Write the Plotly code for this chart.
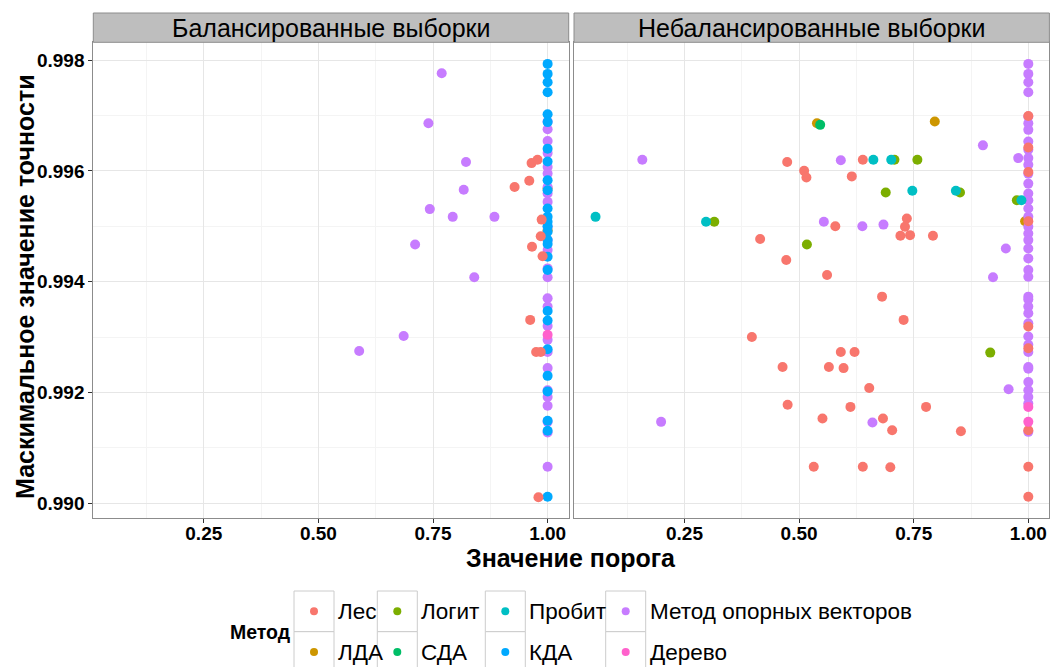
import plotly.graph_objects as go

W, H = 1052, 667
FONT = "Liberation Sans, Arial, sans-serif"

METHODS = ["Лес", "ЛДА", "Логит", "СДА", "Пробит", "КДА", "Метод опорных векторов", "Дерево"]
COLORS = ["#F8766D", "#CD9600", "#7CAE00", "#00BE67", "#00BFC4", "#00A9FF", "#C77CFF", "#FF61CC"]
PANELS = ["Балансированные выборки", "Небалансированные выборки"]
X_TICKS = [0.25, 0.50, 0.75, 1.00]
X_TICK_TEXT = ["0.25", "0.50", "0.75", "1.00"]
Y_TICKS = [0.990, 0.992, 0.994, 0.996, 0.998]
Y_TICK_TEXT = ["0.990", "0.992", "0.994", "0.996", "0.998"]
X_TITLE = "Значение порога"
Y_TITLE = "Маскимальное значение точности"
LEGEND_TITLE = "Метод"

# ---------------- Balanced samples (left panel) ----------------
BAL_LES_X = [0.965, 0.978, 0.960, 0.928, 0.987, 0.985, 0.966, 0.989, 0.962, 0.975, 0.985, 0.980]
BAL_LES_Y = [0.99614, 0.99620, 0.99582, 0.99571, 0.99512, 0.99482, 0.99463, 0.99446, 0.99331, 0.99273, 0.99273, 0.99011]
BAL_LDA_X = [1.0, 1.0]
BAL_LDA_Y = [0.99568, 0.99493]
BAL_KDA_X = [1.0, 1.0, 1.0, 1.0, 1.0, 1.0, 1.0, 1.0, 1.0, 1.0, 1.0, 1.0, 1.0, 1.0,
             1.0, 1.0, 1.0, 1.0, 1.0, 1.0, 1.0, 1.0, 1.0, 1.0, 1.0, 1.0, 1.0]
BAL_KDA_Y = [0.99793, 0.99775, 0.99760, 0.99742, 0.99702, 0.99688, 0.99640, 0.99617, 0.99583,
             0.99565, 0.99532, 0.99517, 0.99508, 0.99500, 0.99490, 0.99475, 0.99468, 0.99445,
             0.99421, 0.99347, 0.99330, 0.99278, 0.99230, 0.99202, 0.99149, 0.99131, 0.99012]
BAL_SVM_X = [0.769, 0.740, 0.822, 0.817, 0.743, 0.793, 0.884, 0.711, 0.840, 0.686, 0.589,
             1.0, 1.0, 1.0, 1.0, 1.0, 1.0, 1.0, 1.0, 1.0, 1.0, 1.0, 1.0, 1.0, 1.0, 1.0,
             1.0, 1.0, 1.0, 1.0, 1.0, 1.0, 1.0, 1.0, 1.0, 1.0, 1.0]
BAL_SVM_Y = [0.99776, 0.99686, 0.99616, 0.99566, 0.99531, 0.99517, 0.99517, 0.99467, 0.99408, 0.99302, 0.99275,
             0.99689, 0.99675, 0.99654, 0.99632, 0.99607, 0.99595, 0.99571, 0.99559, 0.99544, 0.99499,
             0.99475, 0.99457, 0.99424, 0.99408, 0.99370, 0.99355, 0.99320, 0.99295, 0.99273, 0.99244,
             0.99204, 0.99192, 0.99176, 0.99147, 0.99128, 0.99066]
BAL_TREE_X = [1.0]
BAL_TREE_Y = [0.99304]

# ---------------- Unbalanced samples (right panel) ----------------
UNB_LES_X = [0.474, 0.511, 0.516, 0.639, 0.615, 0.579, 0.735, 0.731, 0.721, 0.742, 0.792, 0.415,
             0.472, 0.561, 0.681, 0.728, 0.397, 0.591, 0.621, 0.464, 0.565, 0.597, 0.653, 0.475,
             0.612, 0.777, 0.551, 0.683, 0.703, 0.853, 0.532, 0.639, 0.699,
             1.0, 1.0, 1.0, 1.0, 1.0, 1.0, 1.0, 1.0, 1.0]
UNB_LES_Y = [0.99616, 0.99600, 0.99588, 0.99620, 0.99590, 0.99500, 0.99514, 0.99499, 0.99483, 0.99484,
             0.99483, 0.99477, 0.99439, 0.99412, 0.99373, 0.99331, 0.99300, 0.99273, 0.99273, 0.99246,
             0.99246, 0.99244, 0.99208, 0.99178, 0.99174, 0.99174, 0.99153, 0.99153, 0.99132, 0.99130,
             0.99066, 0.99066, 0.99065,
             0.99699, 0.99642, 0.99598, 0.99509, 0.99319, 0.99280, 0.99132, 0.99066, 0.99012]
UNB_LDA_X = [0.539, 0.796, 0.993]
UNB_LDA_Y = [0.99686, 0.99689, 0.99509]
UNB_LOGIT_X = [0.315, 0.708, 0.758, 0.689, 0.851, 0.975, 0.517, 0.917]
UNB_LOGIT_Y = [0.99508, 0.99620, 0.99620, 0.99561, 0.99561, 0.99547, 0.99467, 0.99272]
UNB_SDA_X = [0.546]
UNB_SDA_Y = [0.99683]
UNB_PROBIT_X = [0.056, 0.297, 0.662, 0.701, 0.747, 0.842, 0.985]
UNB_PROBIT_Y = [0.99517, 0.99508, 0.99620, 0.99620, 0.99564, 0.99564, 0.99547]
UNB_SVM_X = [0.158, 0.591, 0.901, 0.978, 0.554, 0.638, 0.684, 0.951, 0.923, 0.957, 0.199, 0.660,
             1.0, 1.0, 1.0, 1.0, 1.0, 1.0, 1.0, 1.0, 1.0, 1.0, 1.0, 1.0, 1.0, 1.0, 1.0, 1.0,
             1.0, 1.0, 1.0, 1.0, 1.0, 1.0, 1.0, 1.0, 1.0, 1.0, 1.0, 1.0, 1.0, 1.0, 1.0, 1.0,
             1.0, 1.0, 1.0, 1.0, 1.0, 1.0, 1.0]
UNB_SVM_Y = [0.99620, 0.99619, 0.99646, 0.99623, 0.99508, 0.99500, 0.99503, 0.99460, 0.99408, 0.99206,
             0.99147, 0.99146,
             0.99793, 0.99775, 0.99760, 0.99742, 0.99698, 0.99686, 0.99674, 0.99653, 0.99638, 0.99623,
             0.99611, 0.99595, 0.99577, 0.99559, 0.99547, 0.99532, 0.99517, 0.99499, 0.99487, 0.99475,
             0.99460, 0.99442, 0.99421, 0.99409, 0.99373, 0.99368, 0.99355, 0.99343, 0.99325, 0.99301,
             0.99286, 0.99273, 0.99246, 0.99243, 0.99219, 0.99204, 0.99192, 0.99180, 0.99129]
UNB_TREE_X = [1.0, 1.0]
UNB_TREE_Y = [0.99174, 0.99147]

SERIES = {
    0: {
        "Лес": (BAL_LES_X, BAL_LES_Y),
        "ЛДА": (BAL_LDA_X, BAL_LDA_Y),
        "КДА": (BAL_KDA_X, BAL_KDA_Y),
        "Метод опорных векторов": (BAL_SVM_X, BAL_SVM_Y),
        "Дерево": (BAL_TREE_X, BAL_TREE_Y),
    },
    1: {
        "Лес": (UNB_LES_X, UNB_LES_Y),
        "ЛДА": (UNB_LDA_X, UNB_LDA_Y),
        "Логит": (UNB_LOGIT_X, UNB_LOGIT_Y),
        "СДА": (UNB_SDA_X, UNB_SDA_Y),
        "Пробит": (UNB_PROBIT_X, UNB_PROBIT_Y),
        "Метод опорных векторов": (UNB_SVM_X, UNB_SVM_Y),
        "Дерево": (UNB_TREE_X, UNB_TREE_Y),
    },
}
DRAW_ORDER = ["ЛДА", "Метод опорных векторов", "КДА", "Лес", "Логит", "СДА", "Пробит", "Дерево"]
COLOR_OF = dict(zip(METHODS, COLORS))

# ---------------- layout constants (pixels) ----------------
PANEL_X = [(93.3, 568.7), (574.0, 1049.4)]
PANEL_TOP, PANEL_BOTTOM = 42.3, 518.0
STRIP_TOP = 13.0
X_RANGE = [0.009, 1.046]
Y_RANGE = [0.989735, 0.99832]
GRID_MAJOR = "#E6E6E6"
GRID_MINOR = "#F4F4F4"
BORDER = "#8C8C8C"


def px_x(p):
    return p / W


def px_y(p):
    return 1 - p / H


fig = go.Figure()
for pi in range(2):
    xa = "x" if pi == 0 else "x2"
    ya = "y" if pi == 0 else "y2"
    for m in DRAW_ORDER:
        if m not in SERIES[pi]:
            continue
        xs, ys = SERIES[pi][m]
        fig.add_trace(go.Scatter(
            x=xs, y=ys, mode="markers", name=m, xaxis=xa, yaxis=ya,
            marker=dict(color=COLOR_OF[m], size=10, line=dict(width=0)),
            showlegend=False, hoverinfo="x+y+name",
        ))

axis_common = dict(
    showline=True, linecolor=BORDER, linewidth=1, mirror=True,
    showgrid=True, gridcolor=GRID_MAJOR, gridwidth=1, zeroline=False,
    ticks="outside", ticklen=4, tickwidth=1, tickcolor="#333333",
    tickfont=dict(family=FONT, size=19, color="black", weight="bold"),
)

for pi in range(2):
    suffix = "" if pi == 0 else "2"
    x0, x1 = PANEL_X[pi]
    fig.update_layout(**{
        "xaxis" + suffix: dict(
            axis_common, domain=[px_x(x0), px_x(x1)], range=X_RANGE,
            anchor="y" + suffix, tickmode="array", tickvals=X_TICKS, ticktext=X_TICK_TEXT,
            ticklabelstandoff=-6,
            minor=dict(tickmode="array", tickvals=[0.125, 0.375, 0.625, 0.875],
                       showgrid=True, gridcolor=GRID_MINOR, gridwidth=1, ticks=""),
        ),
        "yaxis" + suffix: dict(
            axis_common, domain=[px_y(PANEL_BOTTOM), px_y(PANEL_TOP)], range=Y_RANGE,
            anchor="x" + suffix, tickmode="array", tickvals=Y_TICKS, ticktext=Y_TICK_TEXT,
            showticklabels=(pi == 0), ticks="outside" if pi == 0 else "",
            minor=dict(tickmode="array", tickvals=[0.991, 0.993, 0.995, 0.997],
                       showgrid=True, gridcolor=GRID_MINOR, gridwidth=1, ticks=""),
        ),
    })

shapes = []
annotations = []
for pi in range(2):
    x0, x1 = PANEL_X[pi]
    shapes.append(dict(type="rect", xref="paper", yref="paper",
                       x0=px_x(x0), x1=px_x(x1), y0=px_y(PANEL_TOP), y1=px_y(STRIP_TOP),
                       fillcolor="#BEBEBE", line=dict(color=BORDER, width=1), layer="above"))
    annotations.append(dict(xref="paper", yref="paper", x=px_x((x0 + x1) / 2),
                            y=px_y((PANEL_TOP + STRIP_TOP) / 2), text=PANELS[pi], showarrow=False,
                            xanchor="center", yanchor="middle",
                            font=dict(family=FONT, size=25, color="black")))

annotations.append(dict(xref="paper", yref="paper", x=px_x((PANEL_X[0][0] + PANEL_X[1][1]) / 2),
                        y=px_y(558), text=X_TITLE, showarrow=False, xanchor="center", yanchor="middle",
                        font=dict(family=FONT, size=25, color="black", weight="bold")))
annotations.append(dict(xref="paper", yref="paper", x=px_x(25),
                        y=px_y(287), text=Y_TITLE, showarrow=False,
                        textangle=-90, xanchor="center", yanchor="middle",
                        font=dict(family=FONT, size=25, color="black", weight="bold")))

# legend (ggplot-style, 2 rows x 4 columns, column-major)
LEG_COL_X = [294.0, 377.3, 485.3, 605.7]
LEG_ROW_TOP = [591.0, 631.7]
KEY_W, KEY_H = 40.0, 40.7
annotations.append(dict(xref="paper", yref="paper", x=px_x(293), y=px_y(632), text=LEGEND_TITLE,
                        showarrow=False, xanchor="right", yanchor="middle",
                        font=dict(family=FONT, size=19.5, color="black", weight="bold")))
for i, m in enumerate(METHODS):
    c, r = divmod(i, 2)
    bx, by = LEG_COL_X[c], LEG_ROW_TOP[r]
    shapes.append(dict(type="rect", xref="paper", yref="paper",
                       x0=px_x(bx), x1=px_x(bx + KEY_W), y0=px_y(by + KEY_H), y1=px_y(by),
                       fillcolor="white", line=dict(color="#CCCCCC", width=1)))
    cx, cy = bx + KEY_W / 2, by + KEY_H / 2
    shapes.append(dict(type="circle", xref="paper", yref="paper",
                       x0=px_x(cx - 4), x1=px_x(cx + 4), y0=px_y(cy + 4), y1=px_y(cy - 4),
                       fillcolor=COLOR_OF[m], line=dict(width=0)))
    annotations.append(dict(xref="paper", yref="paper", x=px_x(bx + KEY_W + 2), y=px_y(cy),
                            text=m, showarrow=False, xanchor="left", yanchor="middle",
                            font=dict(family=FONT, size=22.5, color="black")))

fig.update_layout(
    width=W, height=H, margin=dict(l=0, r=0, t=0, b=0),
    paper_bgcolor="white", plot_bgcolor="white",
    shapes=shapes, annotations=annotations, showlegend=False,
    font=dict(family=FONT),
)

fig.write_html("out.html")
